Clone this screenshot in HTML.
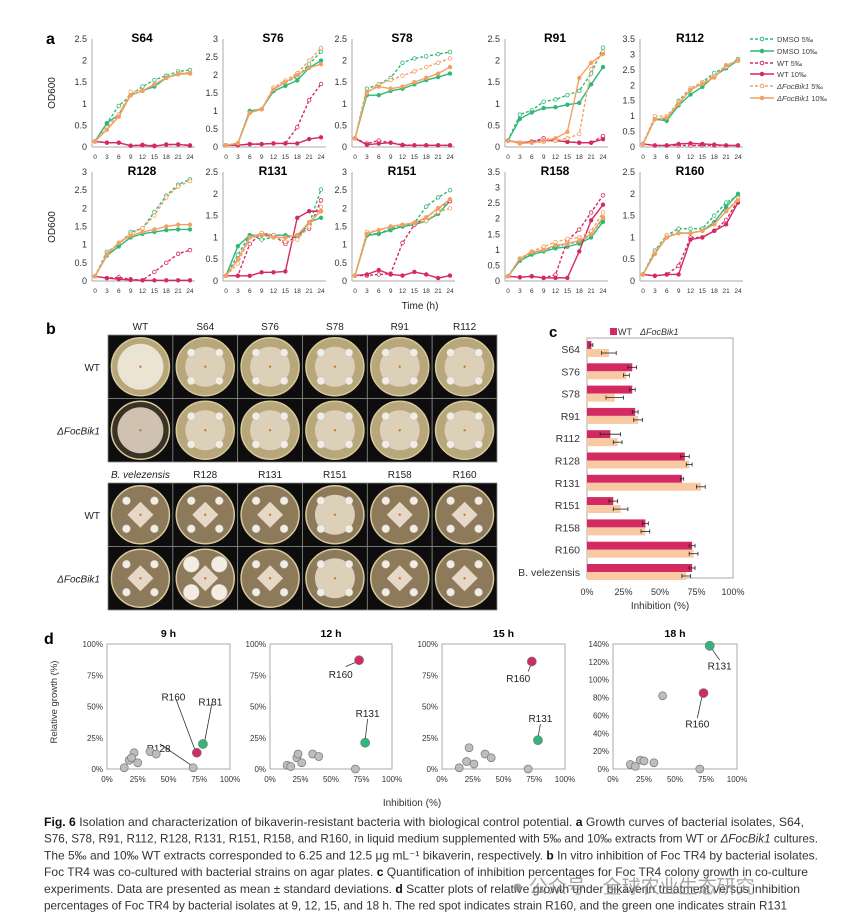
<!DOCTYPE html>
<html><head><meta charset="utf-8"><style>
html,body{margin:0;padding:0;background:#fff;}
svg{display:block;font-family:"Liberation Sans",Arial,sans-serif;}
</style></head><body>
<svg id="fig" width="865" height="923" viewBox="0 0 865 923">
<g id="ga"></g>
<g id="gb"></g>
<g id="gc"></g>
<g id="gd"></g>
<g id="gcap"></g>
</svg>
<script>
// ---------- Panel a data ----------
const times=[0,3,6,9,12,15,18,21,24];
const strains=["S64","S76","S78","R91","R112","R128","R131","R151","R158","R160"];
const yMaxes=[2.5,3,2.5,2.5,3.5,3,2.5,3,3.5,2.5];
const dmso5=[[.13,.55,.95,1.2,1.4,1.55,1.65,1.75,1.78],[.05,.1,1,1.05,1.6,1.8,1.95,2.3,2.65],[.2,1.35,1.45,1.6,1.95,2.05,2.1,2.15,2.2],[.15,.75,.85,1.05,1.1,1.2,1.3,1.7,2.3],[.1,.9,.9,1.5,1.9,2.1,2.4,2.6,2.85],[.13,.8,1.0,1.35,1.45,1.9,2.35,2.65,2.8],[.12,.6,1.05,.95,1.0,1.0,1.0,1.3,2.1],[.15,1.3,1.3,1.45,1.5,1.6,2.05,2.3,2.5],[.15,.7,.9,1.0,1.1,1.2,1.25,1.5,2.0],[.15,.7,1.05,1.2,1.2,1.2,1.5,1.8,1.95]];
const dmso10=[[.13,.55,.75,1.2,1.3,1.4,1.6,1.7,1.7],[.05,.1,1,1.05,1.55,1.7,1.85,2.2,2.4],[.2,1.2,1.2,1.3,1.35,1.45,1.55,1.62,1.7],[.15,.65,.8,.9,.92,.98,1.02,1.45,1.85],[.1,.9,.85,1.35,1.7,1.95,2.3,2.55,2.8],[.13,.7,.95,1.2,1.3,1.35,1.4,1.42,1.42],[.12,.8,1.05,1.05,1.05,1.05,1.0,1.35,1.45],[.15,1.25,1.3,1.4,1.5,1.55,1.65,1.85,2.2],[.15,.65,.85,.95,1.05,1.1,1.2,1.4,1.9],[.15,.65,1.0,1.1,1.1,1.15,1.35,1.7,2.0]];
const wt5=[[.13,.1,.1,.03,.05,.03,.05,.06,.04],[.05,.05,.08,.08,.1,.1,.55,1.3,1.75],[.2,.08,.15,.1,.05,.04,.04,.04,.04],[.15,.1,.12,.2,.15,.12,.1,.1,.25],[.1,.05,.05,.05,.05,.05,.05,.05,.05],[.13,.08,.1,.05,.02,.25,.5,.75,.85],[.12,.12,.85,1.1,1.05,.85,1.05,1.2,1.85],[.15,.15,.18,.2,1.05,1.55,1.75,2.0,2.2],[.15,.12,.15,.1,.2,1.3,1.65,2.2,2.75],[.15,.12,.15,.35,1.0,1.0,1.15,1.4,1.85]];
const wt10=[[.13,.1,.1,.03,.04,.02,.06,.06,.03],[.05,.05,.08,.08,.1,.1,.1,.22,.27],[.2,.05,.08,.1,.04,.04,.04,.04,.04],[.15,.1,.12,.15,.15,.12,.1,.1,.18],[.1,.05,.05,.1,.12,.1,.08,.05,.05],[.13,.08,.05,.03,.02,.02,.02,.02,.02],[.12,.12,.12,.2,.2,.22,1.45,1.6,1.6],[.15,.18,.3,.18,.15,.25,.18,.08,.15],[.15,.12,.15,.1,.1,.1,.95,1.95,2.45],[.15,.12,.15,.15,.95,1.0,1.15,1.3,1.8]];
const foc5=[[.13,.45,.75,1.28,1.3,1.45,1.6,1.7,1.72],[.05,.1,.95,1.05,1.65,1.85,2.05,2.4,2.75],[.2,1.25,1.45,1.55,1.65,1.75,1.85,1.95,2.05],[.15,.1,.1,.12,.15,.2,.3,1.8,2.2],[.1,1.0,1.0,1.45,1.9,2.1,2.3,2.6,2.8],[.13,.75,1.05,1.3,1.45,1.8,2.3,2.6,2.75],[.12,.4,1.0,1.1,1.05,.9,.95,1.25,1.7],[.15,1.35,1.4,1.5,1.55,1.6,1.65,1.9,2.0],[.15,.72,.95,1.1,1.25,1.35,1.4,1.6,2.2],[.15,.65,1.05,1.1,1.1,1.15,1.3,1.6,1.9]];
const foc10=[[.13,.4,.7,1.2,1.3,1.45,1.6,1.68,1.7],[.05,.1,.95,1.05,1.6,1.8,2.0,2.2,2.3],[.2,1.28,1.4,1.35,1.4,1.5,1.6,1.7,1.85],[.15,.08,.1,.15,.2,.35,1.6,1.95,2.15],[.1,.9,.95,1.4,1.85,2.05,2.25,2.65,2.8],[.13,.72,1.05,1.25,1.35,1.42,1.5,1.55,1.55],[.12,.5,1.0,1.05,1.0,1.0,1.05,1.35,1.6],[.15,1.3,1.4,1.5,1.55,1.6,1.75,2.0,2.25],[.15,.72,.92,1.0,1.15,1.2,1.3,1.5,2.05],[.15,.62,1.0,1.1,1.1,1.15,1.3,1.6,1.85]];
const seriesLabels=["DMSO 5‰","DMSO 10‰","WT 5‰","WT 10‰","ΔFocBik1 5‰","ΔFocBik1 10‰"];

// ---------- Panel c data ----------
const cCats=["S64","S76","S78","R91","R112","R128","R131","R151","R158","R160","B. velezensis"];
const cWT=[3,31,31,33,16,67,65,18,40,72,72];
const cWTerr=[1,3,2,2,7,3,1,3,2,2,2];
const cFoc=[15,27,19,35,21,70,78,23,40,73,68];
const cFocErr=[5,2,6,3,3,2,3,5,3,3,3];
const cTicks=[0,25,50,75,100];

// ---------- Panel d data ----------
const dTitles=["9 h","12 h","15 h","18 h"];
const dYMax=[100,100,100,140];
const dGrayX=[[14,18,22,20,25,35,40,70],[14,17,22,23,26,35,40,70],[14,20,22,26,35,40,70],[14,18,22,25,33,40,70]];
const dGrayY=[[1,7,13,9,5,14,12,1],[3,2,9,12,5,12,10,0],[1,6,17,4,12,9,0],[5,3,10,9,7,82,0]];
const dR160=[[73,13],[73,87],[73,86],[73,85]];
const dR131=[[78,20],[78,21],[78,23],[78,138]];

const NS="http://www.w3.org/2000/svg";
function mk(parent,tag,attrs,text){const e=document.createElementNS(NS,tag);for(const k in attrs)e.setAttribute(k,attrs[k]);if(text!==undefined)e.textContent=text;parent.appendChild(e);return e;}
const GREEN="#2fb879",RED="#d42a62",ORANGE="#f2a163";

// ---------- Panel a ----------
const ga=document.getElementById('ga');
let t=mk(ga,'text',{x:46,y:44,'font-size':16,'font-weight':'bold'},'a');


const axisXs=[92,223,352,505,640];
const rowTB=[[39,147],[172,281]];
const sCols=[GREEN,GREEN,RED,RED,ORANGE,ORANGE];
const sDash=[true,false,true,false,true,false];
const allSeries=[dmso5,dmso10,wt5,wt10,foc5,foc10];
strains.forEach((s,i)=>{
  const ax=axisXs[i%5],[yt,yb]=rowTB[Math.floor(i/5)],ym=yMaxes[i];
  const g=mk(ga,'g',{});
  
  
  const xs=v=>ax+3+v/24*95, ys=v=>yb-v/ym*(yb-yt);
  const tt=mk(g,'text',{x:ax+50,y:yt+3,'font-size':12,'font-weight':'bold','text-anchor':'middle'},s);
  
  
  mk(g,'line',{x1:ax,y1:yt,x2:ax,y2:yb,stroke:'#aaa','stroke-width':1});
  mk(g,'line',{x1:ax,y1:yb,x2:ax+103,y2:yb,stroke:'#aaa','stroke-width':1});
  for(let v=0;v<=ym+1e-9;v+=0.5){
    const yl=mk(g,'text',{x:ax-5,y:ys(v)+3,'font-size':9,fill:'#333','text-anchor':'end'},String(+v.toFixed(1)));
    
    
  }
  times.forEach(tm=>{
    const xl=mk(g,'text',{x:xs(tm),y:yb+12,'font-size':6.5,fill:'#333','text-anchor':'middle'},String(tm));
    
    
  });
  allSeries.forEach((ser,k)=>{
    const vals=ser[i];
    const p=mk(g,'polyline',{points:vals.map((v,j)=>xs(times[j])+','+ys(v)).join(' '),fill:'none',stroke:sCols[k],'stroke-width':1.4,'stroke-dasharray':sDash[k]?'3,2':'none'});
    
    
    vals.forEach((v,j)=>{mk(g,'circle',{cx:xs(times[j]),cy:ys(v),r:1.8,fill:sDash[k]?'#fff':sCols[k],stroke:sCols[k],'stroke-width':0.8});});
  });
});
[[55,93],[55,227]].forEach(([x,y])=>{
  const o=mk(ga,'text',{x:x,y:y,'font-size':10,fill:'#222','text-anchor':'middle',transform:`rotate(-90 ${x} ${y})`},'OD600');
  
  
});
t=mk(ga,'text',{x:420,y:309,'font-size':10,fill:'#222','text-anchor':'middle'},'Time (h)');


const legYs=[39,51,63,74,86,98];
seriesLabels.forEach((lab,k)=>{
  const g=mk(ga,'g',{});
  
  
  mk(g,'line',{x1:750,y1:legYs[k],x2:774,y2:legYs[k],stroke:sCols[k],'stroke-width':1.4,'stroke-dasharray':sDash[k]?'3,2':'none'});
  mk(g,'circle',{cx:762,cy:legYs[k],r:1.8,fill:sDash[k]?'#fff':sCols[k],stroke:sCols[k]});
  const tx=mk(g,'text',{x:777,y:legYs[k]+3,'font-size':7.5,fill:'#444'});
  if(lab.startsWith('Δ')){mk(tx,'tspan',{'font-style':'italic'},'ΔFocBik1');mk(tx,'tspan',{},lab.slice(8));}
  else tx.textContent=lab;
});

// ---------- Panel b ----------
const gb=document.getElementById('gb');
t=mk(gb,'text',{x:46,y:334,'font-size':16,'font-weight':'bold'},'b');


const bHead=[["WT","S64","S76","S78","R91","R112"],["B. velezensis","R128","R131","R151","R158","R160"]];
const blockTop=[335,483];
const cw=(497-108)/6, rh=63.5;
bHead.forEach((hs,bi)=>{
  hs.forEach((h,c)=>{
    const ht=mk(gb,'text',{x:108+cw*c+cw/2,y:blockTop[bi]-5,'font-size':10,fill:'#222','text-anchor':'middle','font-style':h.startsWith('B.')?'italic':'normal'},h);
    
    
    for(let r=0;r<2;r++){
      const x=108+cw*c,y=blockTop[bi]+rh*r,cx=x+cw/2,cy=y+rh/2;
      const g=mk(gb,'g',{});
      
      
      mk(g,'rect',{x:x,y:y,width:cw,height:rh,fill:'#0d0d0d',stroke:'#888','stroke-width':0.8});
      const dark=(bi===0&&c===0&&r===1);
      mk(g,'circle',{cx:cx,cy:cy,r:29,fill:dark?'#3a3226':(bi===1?'#8d7a5a':'#b8a77a'),stroke:'#d8c89a','stroke-width':1.5});
      if(c===0&&bi===0){mk(g,'circle',{cx:cx,cy:cy,r:23,fill:r?'#cfc2b0':'#ece4d2'});}
      else if(bi===1&&c!==3){
        mk(g,'polygon',{points:`${cx},${cy-13} ${cx+13},${cy} ${cx},${cy+13} ${cx-13},${cy}`,fill:'#e6d8c6'});
        [[-1,-1],[1,-1],[-1,1],[1,1]].forEach(([a,b])=>mk(g,'circle',{cx:cx+a*14,cy:cy+b*14,r:r&&c===1?8:4,fill:'#f2ece2',stroke:'#bbb','stroke-width':0.5}));
      } else {
        mk(g,'circle',{cx:cx,cy:cy,r:20,fill:'#ddd0b8'});
        [[-1,-1],[1,-1],[-1,1],[1,1]].forEach(([a,b])=>mk(g,'circle',{cx:cx+a*14,cy:cy+b*14,r:4,fill:'#f2ece2',stroke:'#bbb','stroke-width':0.5}));
      }
      mk(g,'circle',{cx:cx,cy:cy,r:1.2,fill:'#c97a40'});
    }
  });
  ['WT','ΔFocBik1'].forEach((lab,r)=>{
    const rl=mk(gb,'text',{x:100,y:blockTop[bi]+rh*r+rh/2+4,'font-size':10,fill:'#222','text-anchor':'end','font-style':r?'italic':'normal'},lab);
    
    
  });
});

// ---------- Panel c ----------
const gc=document.getElementById('gc');
t=mk(gc,'text',{x:549,y:337,'font-size':15,'font-weight':'bold'},'c');


const cx0=587,cx1=733,cyTop=338,cyBot=578;
const cxs=v=>cx0+v/100*(cx1-cx0);
const catY=i=>349+i*22.3;
mk(gc,'rect',{x:cx0,y:cyTop,width:cx1-cx0,height:cyBot-cyTop,fill:'none',stroke:'#aaa','stroke-width':1});
cCats.forEach((c,i)=>{
  const cl=mk(gc,'text',{x:580,y:catY(i)+4,'font-size':10.5,fill:'#333','text-anchor':'end'},c);
  
  
  const y=catY(i);
  const b1=mk(gc,'rect',{x:cx0,y:y-8,width:cxs(cWT[i])-cx0,height:8,fill:RED});
  
  
  const b2=mk(gc,'rect',{x:cx0,y:y,width:cxs(cFoc[i])-cx0,height:8,fill:'#f8c9a2'});
  
  
  [[cWT[i],cWTerr[i],y-4],[cFoc[i],cFocErr[i],y+4]].forEach(([v,e,yy])=>{
    mk(gc,'line',{x1:cxs(v-e),y1:yy,x2:cxs(v+e),y2:yy,stroke:'#222','stroke-width':0.8});
    mk(gc,'line',{x1:cxs(v-e),y1:yy-2,x2:cxs(v-e),y2:yy+2,stroke:'#222','stroke-width':0.8});
    mk(gc,'line',{x1:cxs(v+e),y1:yy-2,x2:cxs(v+e),y2:yy+2,stroke:'#222','stroke-width':0.8});
  });
});
cTicks.forEach(v=>{
  const tl=mk(gc,'text',{x:cxs(v),y:595,'font-size':9,fill:'#333','text-anchor':'middle'},v+'%');
  
  
});
t=mk(gc,'text',{x:660,y:609,'font-size':10,fill:'#333','text-anchor':'middle'},'Inhibition (%)');


const lg=mk(gc,'g',{});


mk(lg,'rect',{x:610,y:328,width:7,height:7,fill:RED});
mk(lg,'text',{x:618,y:335,'font-size':9,fill:'#333'},'WT');
mk(lg,'text',{x:640,y:335,'font-size':9,fill:'#333','font-style':'italic'},'ΔFocBik1');

// ---------- Panel d ----------
const gd=document.getElementById('gd');
t=mk(gd,'text',{x:44,y:644,'font-size':16,'font-weight':'bold'},'d');


const dX=[[107,230],[270,392],[442,565],[613,737]];
const dyT=644,dyB=769;
const labelPos=[
  {r160:[[56,56],[72,14]],r131:[[86,56],[79,20]],r128:[[43,20],[70,2]],t160:[54,58],t131:[84,54],t128:[42,17]},
  {r160:[[62,82],[72,86]],r131:[[80,40],[78,23]],t160:[58,76],t131:[80,45]},
  {r160:[[70,78],[73,85]],r131:[[80,36],[78,25]],t160:[62,73],t131:[80,41]},
  {r160:[[68,57],[72,83]],r131:[[86,122],[79,136]],t160:[68,51],t131:[86,116]}];
dTitles.forEach((tt,i)=>{
  const [xa,xb]=dX[i],ym=dYMax[i];
  const xs=v=>xa+v/100*(xb-xa), ys=v=>dyB-v/ym*(dyB-dyT);
  const g=mk(gd,'g',{});
  
  
  mk(g,'rect',{x:xa,y:dyT,width:xb-xa,height:dyB-dyT,fill:'none',stroke:'#aaa','stroke-width':1});
  const ti=mk(g,'text',{x:(xa+xb)/2,y:637,'font-size':10.5,'font-weight':'bold','text-anchor':'middle'},tt);
  
  
  const step=ym===140?20:25;
  for(let v=0;v<=ym;v+=step){
    const yl=mk(g,'text',{x:xa-4,y:ys(v)+3,'font-size':8,fill:'#333','text-anchor':'end'},v+'%');
    
    
  }
  [0,25,50,75,100].forEach(v=>{
    const xl=mk(g,'text',{x:xs(v),y:782,'font-size':8,fill:'#333','text-anchor':'middle'},v+'%');
    
    
  });
  const lp=labelPos[i];
  const lines=[['r160','t160','R160',dR160[i]],['r131','t131','R131',dR131[i]]];
  if(lp.r128)lines.push(['r128','t128','R128',null]);
  lines.forEach(([lk,tk,lab])=>{
    const [[a,b],[c,d]]=lp[lk];
    mk(g,'line',{x1:xs(a),y1:ys(b),x2:xs(c),y2:ys(d),stroke:'#333','stroke-width':0.8});
    const lt=mk(g,'text',{x:xs(lp[tk][0]),y:ys(lp[tk][1])+4,'font-size':10,fill:'#222','text-anchor':'middle'},lab);
    
    
  });
  dGrayX[i].forEach((x,j)=>{
    const c=mk(g,'circle',{cx:xs(x),cy:ys(dGrayY[i][j]),r:4,fill:'#bdbdbd',stroke:'#777','stroke-width':0.7});
    
    
  });
  let c=mk(g,'circle',{cx:xs(dR160[i][0]),cy:ys(dR160[i][1]),r:4.5,fill:RED,stroke:'#777','stroke-width':0.7});
  
  
  c=mk(g,'circle',{cx:xs(dR131[i][0]),cy:ys(dR131[i][1]),r:4.5,fill:GREEN,stroke:'#777','stroke-width':0.7});
  
  
});
t=mk(gd,'text',{x:57,y:702,'font-size':9.5,fill:'#333','text-anchor':'middle',transform:'rotate(-90 57 702)'},'Relative growth (%)');


t=mk(gd,'text',{x:412,y:806,'font-size':10,fill:'#333','text-anchor':'middle'},'Inhibition (%)');



// ---------- Caption ----------
const gcap=document.getElementById('gcap');
const capLines=[
 [["b","Fig. 6"],["n","  Isolation and characterization of bikaverin-resistant bacteria with biological control potential. "],["b","a"],["n"," Growth curves of bacterial isolates, S64,"]],
 [["n","S76, S78, R91, R112, R128, R131, R151, R158, and R160, in liquid medium supplemented with 5‰ and 10‰ extracts from WT or "],["i","ΔFocBik1"],["n"," cultures."]],
 [["n","The 5‰ and 10‰ WT extracts corresponded to 6.25 and 12.5 μg mL⁻¹ bikaverin, respectively. "],["b","b"],["n"," In vitro inhibition of Foc TR4 by bacterial isolates."]],
 [["n","Foc TR4 was co-cultured with bacterial strains on agar plates. "],["b","c"],["n"," Quantification of inhibition percentages for Foc TR4 colony growth in co-culture"]],
 [["n","experiments. Data are presented as mean ± standard deviations. "],["b","d"],["n"," Scatter plots of relative growth under bikaverin treatment versus inhibition"]],
 [["n","percentages of Foc TR4 by bacterial isolates at 9, 12, 15, and 18 h. The red spot indicates strain R160, and the green one indicates strain R131"]]];
const capW=[760,774,774,764,756,743];
capLines.forEach((ln,i)=>{
  const tx=mk(gcap,'text',{x:44,y:826+i*16.7,'font-size':12,fill:'#333',textLength:capW[i],lengthAdjust:'spacingAndGlyphs','font-family':'"Liberation Sans Narrow","Liberation Sans",sans-serif'});
  
  
  ln.forEach(([s,txt])=>{const a={};if(s==='b'){a['font-weight']='bold';a.fill='#111';}if(s==='i')a['font-style']='italic';mk(tx,'tspan',a,txt);});
});
const wm=mk(gcap,'text',{x:512,y:893,'font-size':19,fill:'#888','fill-opacity':0.75,'font-family':'"Liberation Sans","Noto Sans CJK SC",sans-serif'},'● 公众号 · 全球农业生态研究');


</script>
</body></html>
